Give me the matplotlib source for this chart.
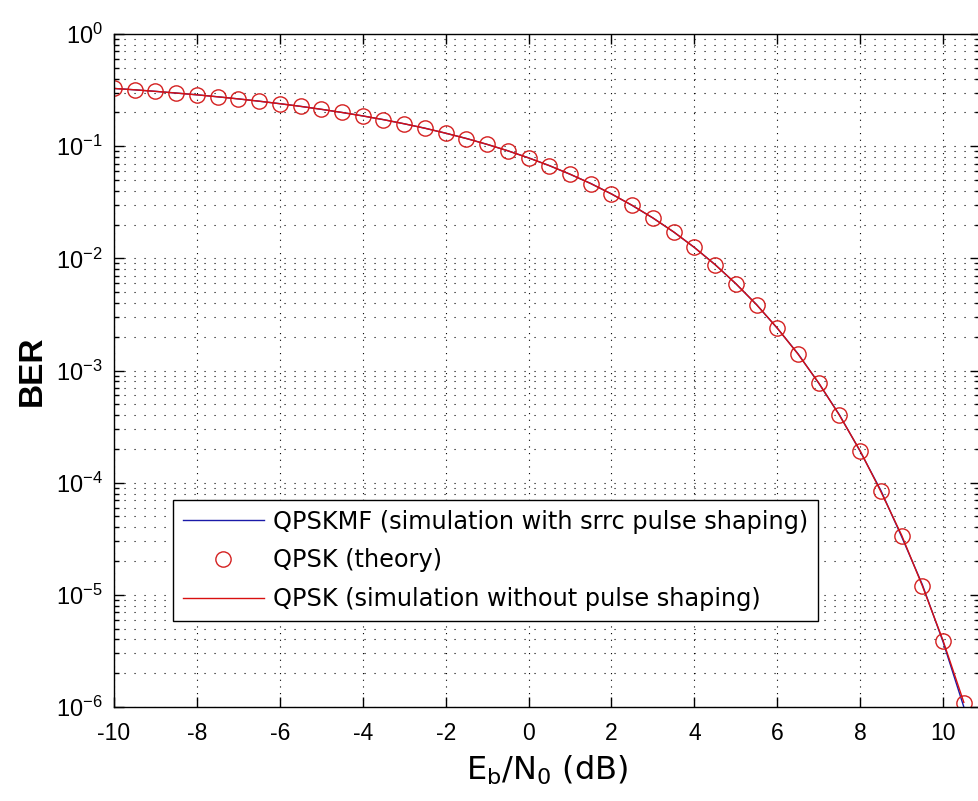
import matplotlib
matplotlib.use("Agg")
import matplotlib.pyplot as plt
from matplotlib.ticker import FixedLocator, FixedFormatter, LogLocator, NullFormatter

plt.rcParams["font.family"] = ["Liberation Sans", "DejaVu Sans"]
plt.rcParams["mathtext.fontset"] = "custom"
plt.rcParams["mathtext.rm"] = "Liberation Sans"
plt.rcParams["mathtext.it"] = "Liberation Sans"
plt.rcParams["axes.unicode_minus"] = False

# Eb/N0 grid (dB)
ebno_db = [-10, -9.5, -9, -8.5, -8, -7.5, -7, -6.5, -6, -5.5, -5, -4.5, -4, -3.5,
           -3, -2.5, -2, -1.5, -1, -0.5, 0, 0.5, 1, 1.5, 2, 2.5, 3, 3.5, 4, 4.5,
           5, 5.5, 6, 6.5, 7, 7.5, 8, 8.5, 9, 9.5, 10, 10.5]

# QPSK theory (circles)
ber_theory = [0.327, 0.318, 0.308, 0.2975, 0.287, 0.2755, 0.264, 0.2517, 0.239,
              0.2264, 0.213, 0.1998, 0.186, 0.1723, 0.158, 0.1445, 0.1306, 0.117,
              0.1038, 0.0909, 0.0786, 0.0671, 0.0563, 0.0464, 0.0375, 0.0297,
              0.0229, 0.0172, 0.0125, 0.00879, 0.00595, 0.00386, 0.00239, 0.0014,
              7.73e-4, 3.99e-4, 1.91e-4, 8.4e-5, 3.36e-5, 1.21e-5, 3.87e-6, 1.08e-6]

# QPSKMF simulation with srrc pulse shaping (blue)
ber_mf = [0.327, 0.318, 0.308, 0.2976, 0.287, 0.2756, 0.2639, 0.2518, 0.2391,
          0.2265, 0.2131, 0.1997, 0.1861, 0.1724, 0.1583, 0.1446, 0.1305, 0.1171,
          0.1037, 0.0909, 0.0787, 0.0671, 0.0562, 0.0465, 0.0375, 0.0296,
          0.0229, 0.0172, 0.0125, 0.0088, 0.00594, 0.00387, 0.00238, 0.00141,
          7.7e-4, 4.02e-4, 1.9e-4, 8.5e-5, 3.3e-5, 1.23e-5, 3.8e-6, 1.0e-6]

# QPSK simulation without pulse shaping (red)
ber_sim = [0.327, 0.318, 0.308, 0.2975, 0.2869, 0.2755, 0.2638, 0.2517, 0.2392,
           0.2263, 0.2132, 0.1998, 0.186, 0.1723, 0.1584, 0.1445, 0.1306, 0.117,
           0.1038, 0.091, 0.0786, 0.0671, 0.0563, 0.0464, 0.0375, 0.0297,
           0.0229, 0.0172, 0.0125, 0.00878, 0.00595, 0.00386, 0.00239, 0.0014,
           7.75e-4, 3.98e-4, 1.92e-4, 8.3e-5, 3.4e-5, 1.2e-5, 3.9e-6, 1.1e-6]

x_ticks = [-10, -8, -6, -4, -2, 0, 2, 4, 6, 8, 10]
y_ticks = [1e-6, 1e-5, 1e-4, 1e-3, 1e-2, 1e-1, 1e0]
y_labels = [r"$\mathregular{10^{-6}}$", r"$\mathregular{10^{-5}}$", r"$\mathregular{10^{-4}}$",
            r"$\mathregular{10^{-3}}$", r"$\mathregular{10^{-2}}$", r"$\mathregular{10^{-1}}$",
            r"$\mathregular{10^{0}}$"]

fig = plt.figure(figsize=(9.79, 8.01), dpi=100)
# axes run off the right edge of the picture, as in the cropped original
ax = fig.add_axes([114 / 979, 94 / 801, 866 / 979, 673 / 801])

ax.semilogy(ebno_db, ber_mf, color="#1a1aa8", lw=1.0,
            label="QPSKMF (simulation with srrc pulse shaping)")
ax.semilogy(ebno_db, ber_theory, "o", color="#d42020", mfc="none", ms=11, mew=1.0,
            label="QPSK (theory)")
ax.semilogy(ebno_db, ber_sim, color="#d81010", lw=1.0,
            label="QPSK (simulation without pulse shaping)")

ax.set_xlim(-10, 10.89)
ax.set_ylim(1e-6, 1)
ax.xaxis.set_major_locator(FixedLocator(x_ticks))
ax.yaxis.set_major_locator(FixedLocator(y_ticks))
ax.yaxis.set_major_formatter(FixedFormatter(y_labels))
ax.yaxis.set_minor_locator(LogLocator(base=10, subs=range(2, 10), numticks=20))
ax.yaxis.set_minor_formatter(NullFormatter())

ax.tick_params(which="both", direction="in", top=True, right=True, width=1.0)
ax.tick_params(which="major", length=7)
ax.tick_params(which="minor", length=3.5)
ax.tick_params(axis="x", labelsize=16.5, pad=11)
ax.tick_params(axis="y", labelsize=17, pad=8)

dots = (0, (1, 8))
ax.grid(which="major", axis="y", color="black", lw=0.8, linestyle=dots)
ax.grid(which="major", axis="x", color="black", lw=0.8, linestyle=(0, (1, 5)))
ax.grid(which="minor", axis="y", color="black", lw=0.8, linestyle=dots)

for s in ax.spines.values():
    s.set_linewidth(1.0)

ax.set_xlabel(r"E$_\mathregular{b}$/N$_\mathregular{0}$ (dB)", fontsize=23,
              family=["DejaVu Sans"], labelpad=6)
ax.set_ylabel("BER", fontsize=24, fontweight="bold", labelpad=6)

leg = ax.legend(loc="lower left", bbox_to_anchor=(59 / 866, 86 / 673), borderaxespad=0,
                prop={"family": "DejaVu Sans", "size": 17.3},
                fancybox=False, framealpha=1, edgecolor="black",
                handlelength=3.4, handletextpad=0.35, labelspacing=0.62,
                borderpad=0.4)
leg.get_frame().set_linewidth(1.0)

fig.savefig("out.png", dpi=100)
